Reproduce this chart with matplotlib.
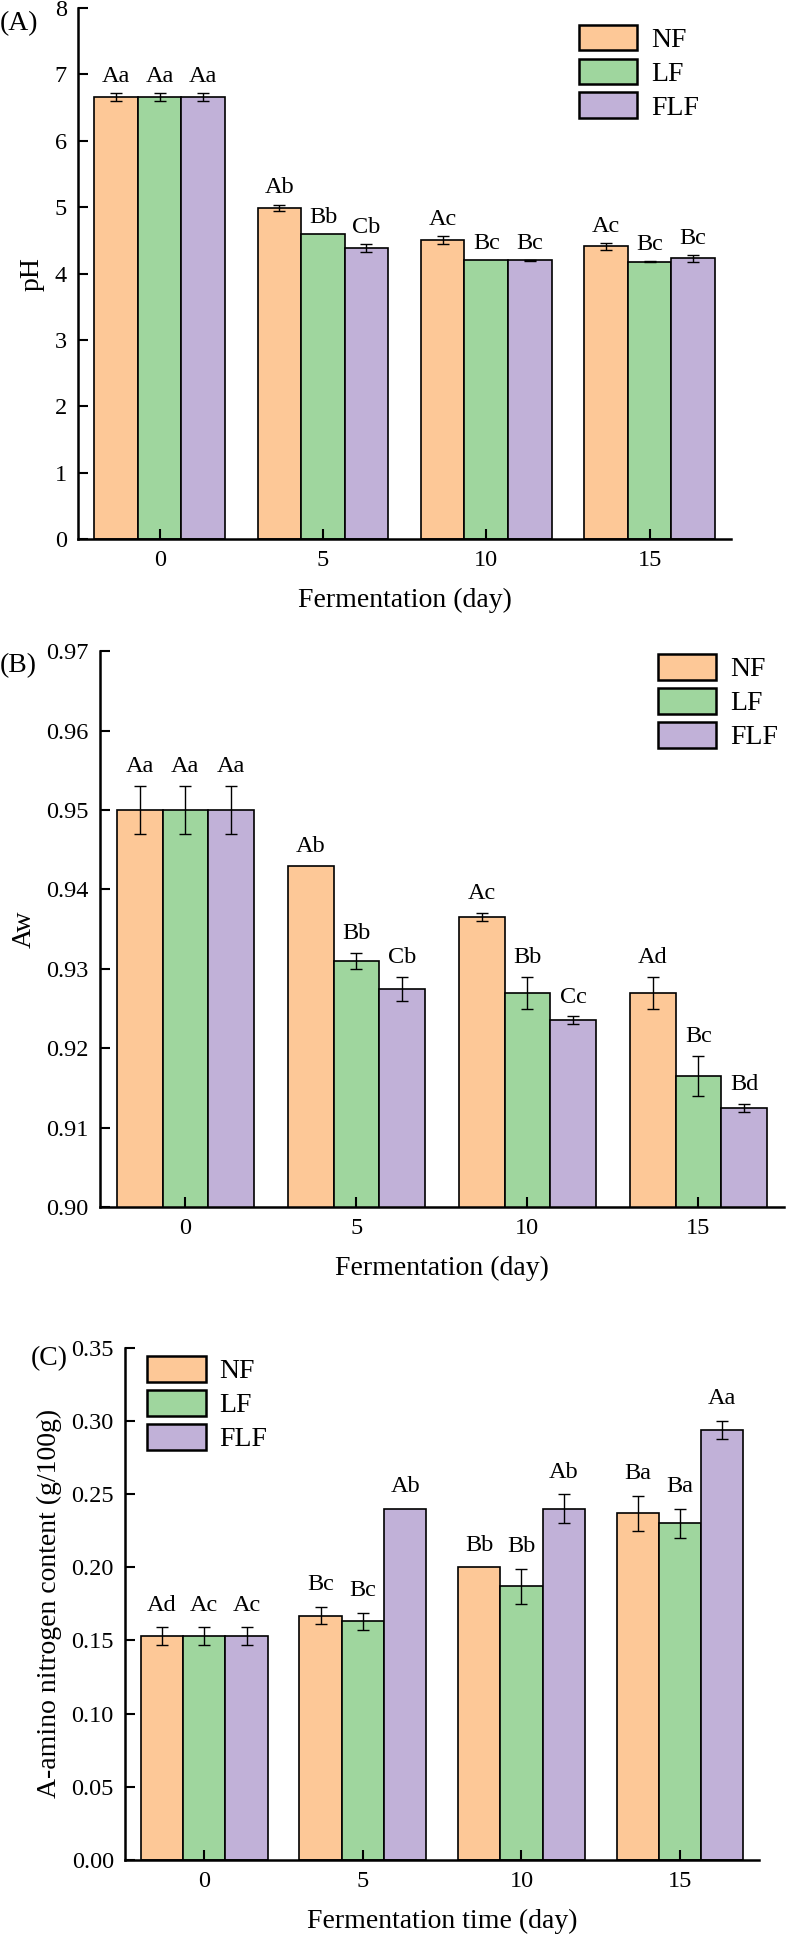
import numpy as np
import matplotlib
matplotlib.use('Agg')
import matplotlib.pyplot as plt

plt.rcParams['font.family'] = ['Liberation Serif', 'DejaVu Serif']

days = ['0', '5', '10', '15']
groups = ['NF', 'LF', 'FLF']
colors = ['#FDC897', '#9FD69E', '#C1B1D8']

# (A) pH
ph_nf = [6.66, 4.99, 4.51, 4.41]
ph_lf = [6.66, 4.59, 4.20, 4.18]
ph_flf = [6.66, 4.38, 4.20, 4.23]
ph_nf_err = [0.06, 0.05, 0.06, 0.05]
ph_lf_err = [0.06, 0.0, 0.0, 0.01]
ph_flf_err = [0.06, 0.06, 0.01, 0.05]
ph_nf_lab = ['Aa', 'Ab', 'Ac', 'Ac']
ph_lf_lab = ['Aa', 'Bb', 'Bc', 'Bc']
ph_flf_lab = ['Aa', 'Cb', 'Bc', 'Bc']

# (B) Aw
aw_nf = [0.950, 0.943, 0.9365, 0.927]
aw_lf = [0.950, 0.931, 0.927, 0.9165]
aw_flf = [0.950, 0.9275, 0.9235, 0.9125]
aw_nf_err = [0.003, 0.0, 0.0005, 0.002]
aw_lf_err = [0.003, 0.001, 0.002, 0.0025]
aw_flf_err = [0.003, 0.0015, 0.0005, 0.0005]
aw_nf_lab = ['Aa', 'Ab', 'Ac', 'Ad']
aw_lf_lab = ['Aa', 'Bb', 'Bb', 'Bc']
aw_flf_lab = ['Aa', 'Cb', 'Cc', 'Bd']

# (C) amino nitrogen
an_nf = [0.153, 0.167, 0.200, 0.237]
an_lf = [0.153, 0.163, 0.187, 0.230]
an_flf = [0.153, 0.240, 0.240, 0.294]
an_nf_err = [0.006, 0.006, 0.0, 0.012]
an_lf_err = [0.006, 0.006, 0.012, 0.010]
an_flf_err = [0.006, 0.0, 0.010, 0.006]
an_nf_lab = ['Ad', 'Bc', 'Bb', 'Ba']
an_lf_lab = ['Ac', 'Bc', 'Bb', 'Ba']
an_flf_lab = ['Ac', 'Ab', 'Ab', 'Aa']


def draw_panel(ax, vals, errs, labs, ylim, yticks, fmt, ylabel, xlabel,
               leg_anchor, lab_off):
    x = np.arange(len(days))
    w = 0.8 / 3
    for i in range(3):
        pos = x + (i - 1) * w
        ax.bar(pos, vals[i], w, color=colors[i], edgecolor='black',
               linewidth=1.2, label=groups[i])
        # only draw error bars that are non-zero
        e = np.array(errs[i])
        m = e > 0
        ax.errorbar(pos[m], np.array(vals[i])[m], yerr=e[m], fmt='none',
                    ecolor='black', elinewidth=1.0, capsize=4, capthick=1.0)
        for p, v, ee, t in zip(pos, vals[i], errs[i], labs[i]):
            ax.annotate(t, (p, v + ee), xytext=(0, lab_off),
                        textcoords='offset points', ha='center',
                        va='baseline', fontsize=17.5)
    ax.set_xlim(-0.5, 3.5)
    ax.set_ylim(*ylim)
    ax.set_xticks(x)
    ax.set_xticklabels(days)
    ax.set_yticks(yticks)
    ax.set_yticklabels([fmt.format(t) for t in yticks])
    ax.tick_params(direction='in', length=7, width=1.5, labelsize=17.5, pad=8)
    for s in ['top', 'right']:
        ax.spines[s].set_visible(False)
    for s in ['left', 'bottom']:
        ax.spines[s].set_linewidth(1.8)
    ax.set_ylabel(ylabel, fontsize=20, labelpad=7)
    ax.set_xlabel(xlabel, fontsize=20, labelpad=12)
    leg = ax.legend(loc='upper left', bbox_to_anchor=leg_anchor,
                    frameon=False, fontsize=20, handlelength=2.1,
                    handleheight=1.05, labelspacing=0.2, handletextpad=0.5,
                    borderpad=0, borderaxespad=0)
    for h in leg.legend_handles:
        h.set_linewidth(1.8)


fig = plt.figure(figsize=(7.87, 19.35), dpi=100)

axA = fig.add_axes([0.0991, 0.7214, 0.830, 0.2744])
draw_panel(axA, [ph_nf, ph_lf, ph_flf], [ph_nf_err, ph_lf_err, ph_flf_err],
           [ph_nf_lab, ph_lf_lab, ph_flf_lab], (0, 8), list(range(0, 9)),
           '{:d}', 'pH', 'Fermentation (day)', (0.767, 0.969), 8)

axB = fig.add_axes([0.127, 0.3762, 0.869, 0.2873])
draw_panel(axB, [aw_nf, aw_lf, aw_flf], [aw_nf_err, aw_lf_err, aw_flf_err],
           [aw_nf_lab, aw_lf_lab, aw_flf_lab], (0.90, 0.97),
           [0.90, 0.91, 0.92, 0.93, 0.94, 0.95, 0.96, 0.97],
           '{:.2f}', 'Aw', 'Fermentation (day)', (0.816, 0.995), 10)

axC = fig.add_axes([0.1588, 0.0388, 0.806, 0.2646])
draw_panel(axC, [an_nf, an_lf, an_flf], [an_nf_err, an_lf_err, an_flf_err],
           [an_nf_lab, an_lf_lab, an_flf_lab], (0, 0.35),
           [0.00, 0.05, 0.10, 0.15, 0.20, 0.25, 0.30, 0.35],
           '{:.2f}', 'A-amino nitrogen content (g/100g)',
           'Fermentation time (day)', (0.035, 0.984), 12)

fig.text(0.0, 1 - 24 / 1935, '(A)', fontsize=20, ha='left', va='center')
fig.text(0.0, 1 - 666 / 1935, '(B)', fontsize=20, ha='left', va='center')
fig.text(31 / 787, 1 - 1359 / 1935, '(C)', fontsize=20, ha='left', va='center')

fig.savefig('out.png', dpi=100)
